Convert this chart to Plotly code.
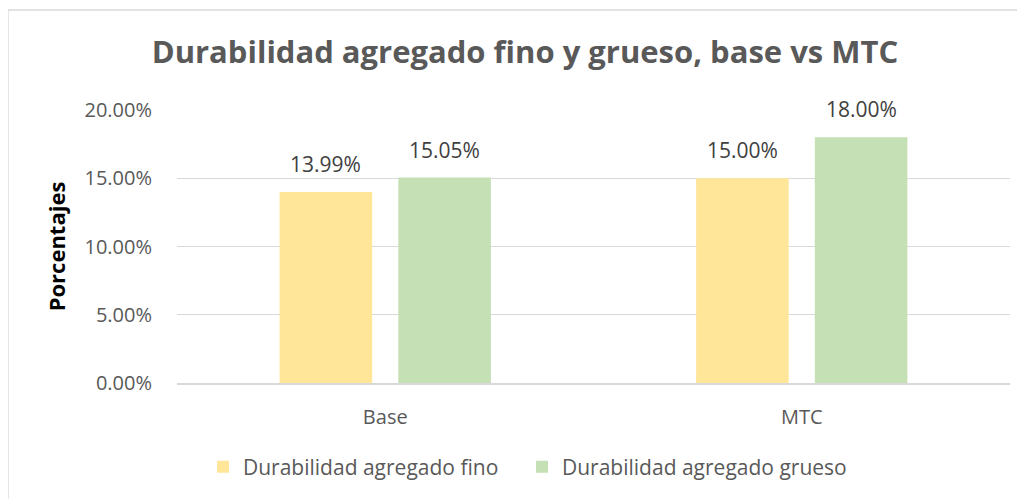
import plotly.graph_objects as go

categories = ["Base", "MTC"]
fino = [0.1399, 0.1500]
grueso = [0.1505, 0.1800]
series_names = ["Durabilidad agregado fino", "Durabilidad agregado grueso"]
tick_vals = [0, 0.05, 0.10, 0.15, 0.20]
tick_text = ["0.00%", "5.00%", "10.00%", "15.00%", "20.00%"]

FONT = "'Open Sans', sans-serif"
colors = ["#FFE699", "#C5E0B4"]
legend_ids = ["legend", "legend2"]

fig = go.Figure()
for name, vals, col, lg in zip(series_names, [fino, grueso], colors, legend_ids):
    fig.add_trace(go.Bar(
        x=categories, y=vals, name=name, legend=lg,
        marker=dict(color=col, line=dict(width=0)),
    ))

# page offset of 8px (body margin) taken into account
OFF = 8
W, H = 1025, 499
L, R, T, B = 177 - OFF, 1010 - OFF, 110 - OFF, 383 - OFF
pw, ph = R - L, B - T

# data labels above each grouped bar
slot_px = 119
for i, vals in enumerate([fino, grueso]):
    for cat, v in zip(categories, vals):
        fig.add_annotation(
            x=cat, y=v, xref="x", yref="y", text=f"{v*100:.2f}%",
            showarrow=False, xanchor="center", yanchor="bottom",
            xshift=(i - 0.5) * slot_px, yshift=12,
            font=dict(family=FONT, size=21, color="#404040"),
        )

leg_common = dict(orientation="h", xanchor="left", yanchor="middle",
                  y=-(467 - OFF - B) / ph,
                  font=dict(family=FONT, size=21, color="#595959"))
fig.update_layout(
    width=W, height=H,
    margin=dict(l=L, r=W - R, t=T, b=H - B, autoexpand=False),
    paper_bgcolor="white", plot_bgcolor="white",
    barmode="group", bargap=0.43, bargroupgap=0.22,
    title=dict(text="<b>Durabilidad agregado fino y grueso, base vs MTC</b>",
               x=(525 - OFF) / W, xanchor="center", y=1 - (52 - OFF) / H, yanchor="middle",
               font=dict(family=FONT, size=31, color="#595959")),
    font=dict(family=FONT, color="#595959"),
    legend=dict(x=(203 - OFF - L) / pw, **leg_common),
    legend2=dict(x=(522 - OFF - L) / pw, **leg_common),
    showlegend=True,
)
fig.update_yaxes(
    range=[0, 0.2], tickvals=tick_vals, ticktext=tick_text,
    tickfont=dict(family=FONT, size=20, color="#595959"),
    showgrid=True, gridcolor="#D9D9D9", gridwidth=1.3,
    zeroline=False, showline=False, ticks="", ticklabelstandoff=24,
    title=dict(text="<b>Porcentajes</b>", standoff=12,
               font=dict(family=FONT, size=22, color="#000000")),
    automargin=False,
)
fig.update_xaxes(
    tickfont=dict(family=FONT, size=20, color="#595959"),
    showline=True, linecolor="#D9D9D9", linewidth=1.5,
    ticks="", ticklabelstandoff=15, automargin=False,
)
fig.add_shape(type="rect", xref="paper", yref="paper",
              x0=(8 - OFF - L) / pw, x1=(1040 - L) / pw,
              y0=(B - 520) / ph, y1=(B - (10 - OFF)) / ph,
              line=dict(color="#D9D9D9", width=1.3), fillcolor="rgba(0,0,0,0)",
              layer="below")

fig.write_html("out.html")
